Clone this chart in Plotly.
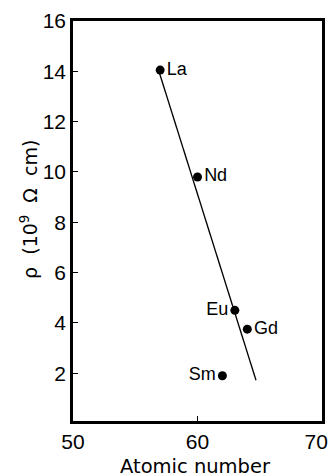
import plotly.graph_objects as go

elements = ["La", "Nd", "Sm", "Eu", "Gd"]
atomic_number = [57, 60, 62, 63, 64]
resistivity = [14.05, 9.8, 1.9, 4.5, 3.75]
label_pos = ["middle right", "middle right", "middle left", "middle left", "middle right"]

fit_x = [56.9, 64.7]
fit_y = [14.0, 1.72]

x_ticks = [50, 60, 70]
x_ticktext = ["50", "60", "70\u00a0\u00a0"]
y_ticks = [2, 4, 6, 8, 10, 12, 14, 16]

FONT = "Liberation Sans"
TITLE_FONT = "DejaVu Sans"

fig = go.Figure()
fig.add_trace(go.Scatter(x=fit_x, y=fit_y, mode="lines",
                         line=dict(color="black", width=1.3), hoverinfo="skip"))
fig.add_trace(go.Scatter(x=atomic_number, y=resistivity, mode="markers+text",
                         text=elements, textposition=label_pos,
                         textfont=dict(family=FONT, size=18, color="black"),
                         marker=dict(color="black", size=9)))

fig.update_layout(
    width=330, height=476,
    margin=dict(l=73, r=8, t=21, b=55),
    paper_bgcolor="white", plot_bgcolor="white",
    showlegend=False,
    font=dict(family=FONT, size=21, color="black"),
)
fig.update_xaxes(range=[50, 70], tickvals=x_ticks, ticktext=x_ticktext,
                 ticks="inside", ticklen=5, automargin=False,
                 ticklabeloverflow="allow",
                 tickcolor="black", showgrid=False, zeroline=False,
                 showline=True, linecolor="black", linewidth=2.5, mirror=True)
fig.update_yaxes(range=[0.1, 16], tickvals=y_ticks, ticks="inside", ticklen=5,
                 automargin=False, ticklabeloverflow="allow",
                 tickcolor="black", showgrid=False, zeroline=False,
                 showline=True, linecolor="black", linewidth=2.5, mirror=True)

fig.add_annotation(text="Atomic number",
                   xref="paper", yref="paper", x=0.49, y=-0.113,
                   xanchor="center", yanchor="middle", showarrow=False,
                   font=dict(family=TITLE_FONT, size=19.5, color="black"))
fig.add_annotation(text="ρ  (10<sup>9</sup>  Ω  cm)", textangle=-90,
                   xref="paper", yref="paper", x=-0.177, y=0.53,
                   xanchor="center", yanchor="middle", showarrow=False,
                   font=dict(family=TITLE_FONT, size=19, color="black"))

fig.write_html("out.html", config={"displayModeBar": False},
               post_script="document.body.style.margin='0';document.body.style.overflow='hidden';")
